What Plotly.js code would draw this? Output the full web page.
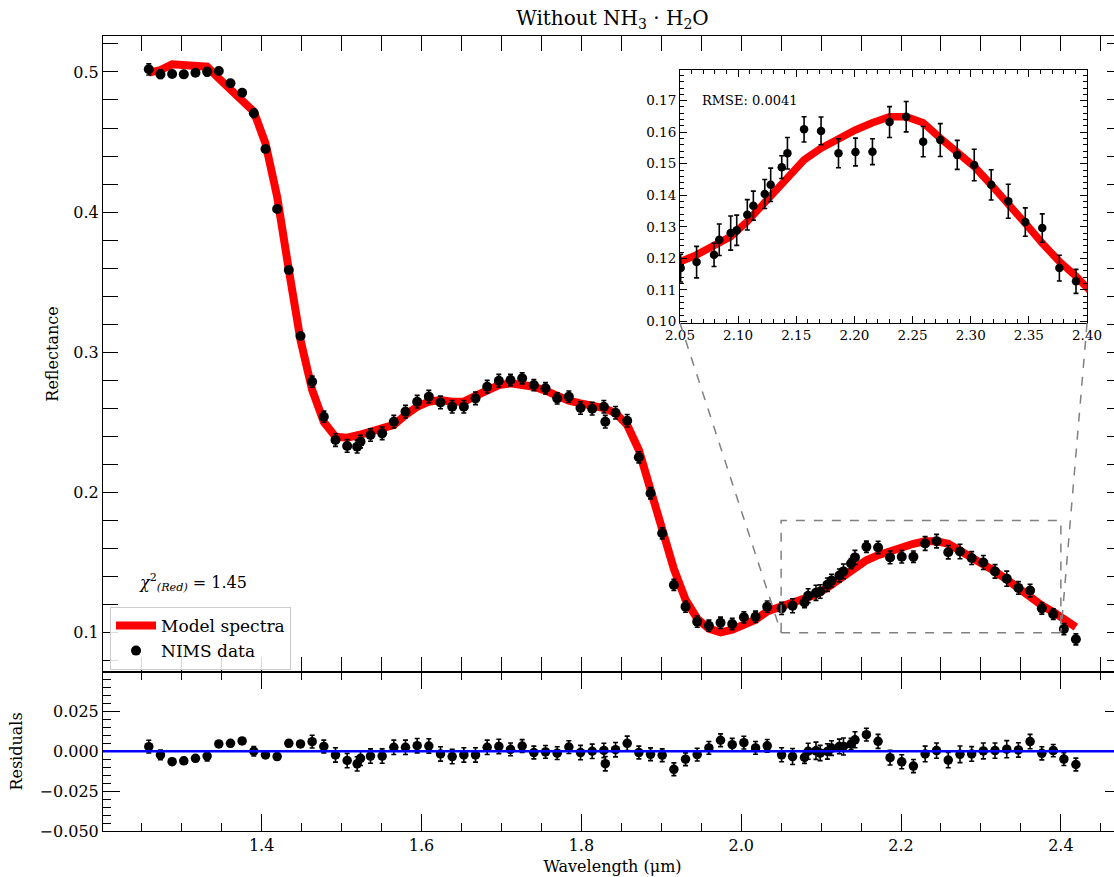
<!DOCTYPE html>
<html>
<head>
<meta charset="utf-8">
<script src="https://cdn.plot.ly/plotly-3.0.1.min.js"></script>
<style>html,body{margin:0;padding:0;overflow:hidden;background:#fff}</style>
</head>
<body>
<div id="chart" style="width:1130px;height:877px"></div>
<script>
// NIMS data (wavelength in µm, reflectance, 1-sigma error, residual)
const dataWave = [1.2588,1.2734,1.2880,1.3026,1.3172,1.3318,1.3464,1.3610,1.3756,1.3902,1.4048,1.4194,1.4340,1.4486,1.4632,1.4778,1.4924,1.5070,1.5195,1.5237,1.5362,1.5508,1.5654,1.5800,1.5946,1.6092,1.6238,1.6384,1.6530,1.6676,1.6822,1.6968,1.7114,1.7260,1.7406,1.7552,1.7698,1.7844,1.7990,1.8136,1.8282,1.8300,1.8428,1.8574,1.8720,1.8866,1.9012,1.9158,1.9304,1.9450,1.9596,1.9742,1.9888,2.0034,2.0180,2.0326,2.0506,2.0643,2.0793,2.0838,2.0936,2.0988,2.1079,2.1131,2.1229,2.1280,2.1375,2.1424,2.1567,2.1713,2.1863,2.2009,2.2155,2.2302,2.2445,2.2591,2.2738,2.2884,2.3030,2.3176,2.3323,2.3469,2.3615,2.3762,2.3905,2.4038,2.4188];
const dataRefl = [0.5019,0.4983,0.4986,0.4983,0.4995,0.5002,0.5007,0.4919,0.4852,0.4705,0.4450,0.4021,0.3586,0.3114,0.2788,0.2538,0.2371,0.2329,0.2324,0.2360,0.2407,0.2419,0.2502,0.2574,0.2645,0.2681,0.2640,0.2609,0.2609,0.2669,0.2752,0.2795,0.2800,0.2812,0.2764,0.2741,0.2669,0.2681,0.2600,0.2595,0.2609,0.2502,0.2566,0.2509,0.2248,0.1991,0.1705,0.1336,0.1181,0.1074,0.1045,0.1066,0.1057,0.1105,0.1109,0.1181,0.1169,0.1188,0.1211,0.1259,0.1280,0.1289,0.1338,0.1367,0.1404,0.1433,0.1489,0.1533,0.1609,0.1604,0.1533,0.1537,0.1538,0.1632,0.1649,0.1570,0.1575,0.1528,0.1496,0.1433,0.1381,0.1315,0.1296,0.1169,0.1127,0.1021,0.0948];
const dataErr = [0.004,0.003,0.002,0.002,0.002,0.003,0.002,0.002,0.002,0.003,0.002,0.002,0.002,0.002,0.004,0.004,0.0045,0.0045,0.0045,0.0045,0.0045,0.0045,0.0045,0.0045,0.0045,0.0045,0.0045,0.0045,0.0045,0.0045,0.0045,0.0045,0.004,0.004,0.004,0.004,0.004,0.004,0.0045,0.0045,0.0045,0.0045,0.0045,0.0045,0.004,0.004,0.004,0.004,0.004,0.004,0.004,0.004,0.004,0.004,0.004,0.004,0.0044,0.0050,0.0037,0.0050,0.0054,0.0048,0.0048,0.0046,0.0046,0.0053,0.0036,0.0050,0.0040,0.0044,0.0046,0.0044,0.0041,0.0049,0.0048,0.0048,0.0052,0.0046,0.0050,0.0048,0.0054,0.0045,0.0045,0.0041,0.0038,0.0040,0.0040];
const residuals = [0.0029,-0.0023,-0.0065,-0.0060,-0.0044,-0.0030,0.0046,0.0050,0.0065,0.0000,-0.0023,-0.0033,0.0050,0.0046,0.0060,0.0030,-0.0023,-0.0058,-0.0079,-0.0044,-0.0030,-0.0030,0.0025,0.0025,0.0035,0.0033,-0.0017,-0.0033,-0.0023,-0.0023,0.0025,0.0030,0.0012,0.0033,-0.0008,-0.0004,-0.0012,0.0026,-0.0008,0.0000,0.0005,-0.0078,0.0010,0.0050,-0.0008,-0.0019,-0.0025,-0.0113,-0.0050,-0.0021,0.0021,0.0069,0.0041,0.0054,0.0021,0.0034,-0.0022,-0.0033,-0.0039,0.0000,0.0003,-0.0011,-0.0001,0.0020,0.0030,0.0030,0.0045,0.0072,0.0104,0.0062,-0.0040,-0.0066,-0.0093,-0.0017,0.0004,-0.0055,-0.0019,-0.0017,0.0002,0.0004,0.0013,0.0008,0.0061,-0.0013,0.0004,-0.0049,-0.0083];

// Model spectrum
const modelWave = [1.2588,1.2734,1.2880,1.3026,1.3172,1.3318,1.3464,1.3610,1.3756,1.3902,1.4048,1.4194,1.4340,1.4486,1.4632,1.4778,1.4924,1.5070,1.5216,1.5362,1.5508,1.5654,1.5800,1.5946,1.6092,1.6238,1.6384,1.6530,1.6676,1.6822,1.6968,1.7114,1.7260,1.7406,1.7552,1.7698,1.7844,1.7990,1.8136,1.8282,1.8428,1.8574,1.8720,1.8866,1.9012,1.9158,1.9304,1.9450,1.9596,1.9742,1.9888,2.0034,2.0180,2.0326,2.0506,2.0643,2.0793,2.0936,2.1079,2.1229,2.1375,2.1567,2.1713,2.1863,2.2009,2.2155,2.2302,2.2445,2.2591,2.2738,2.2884,2.3030,2.3176,2.3323,2.3469,2.3615,2.3762,2.3905,2.4038,2.4188];
const modelRefl = [0.4995,0.5014,0.5055,0.5052,0.5052,0.5038,0.4955,0.4871,0.4800,0.4717,0.4491,0.4109,0.3586,0.3086,0.2729,0.2500,0.2395,0.2388,0.2407,0.2431,0.2455,0.2479,0.2550,0.2609,0.2645,0.2657,0.2645,0.2645,0.2686,0.2733,0.2764,0.2776,0.2771,0.2752,0.2724,0.2686,0.2652,0.2633,0.2621,0.2600,0.2564,0.2479,0.2300,0.2010,0.1730,0.1450,0.1231,0.1095,0.1024,0.0997,0.1016,0.1051,0.1088,0.1147,0.1190,0.1211,0.1238,0.1269,0.1317,0.1375,0.1438,0.1512,0.1549,0.1581,0.1607,0.1630,0.1649,0.1649,0.1630,0.1581,0.1538,0.1491,0.1433,0.1375,0.1311,0.1248,0.1190,0.1143,0.1095,0.1035];

const titleText = 'Without NH<sub>3</sub> · H<sub>2</sub>O';
const chiText = '<i>χ</i><sup>2</sup><sub><i>(Red)</i></sub> = 1.45';
const rmseText = 'RMSE: 0.0041';

// axis ranges / domains
const xRange = [1.2015, 2.4765];
const yRange = [0.07143, 0.52571];
const resRange = [-0.0500, 0.0497];
const mainDom = [0.2, 1];
const resDom = [0, 0.2];
const insetXR = [2.05, 2.40];
const insetYR = [0.0995, 0.1797];
const insetDomX = [0.5662, 0.9657];
const insetDomY = [0.639, 0.9572];

const F = 'DejaVu Serif, Liberation Serif, serif';

const traces = [
  {x: modelWave, y: modelRefl, type: 'scatter', mode: 'lines', name: 'Model spectra',
   line: {color: '#ff0000', width: 8}, xaxis: 'x', yaxis: 'y'},
  {x: dataWave, y: dataRefl, type: 'scatter', mode: 'markers', name: 'NIMS data',
   marker: {color: 'black', size: 10},
   error_y: {type: 'data', array: dataErr, color: 'black', thickness: 1.6, width: 2.5},
   xaxis: 'x', yaxis: 'y'},
  // residuals
  {x: dataWave, y: residuals, type: 'scatter', mode: 'markers', showlegend: false,
   marker: {color: 'black', size: 9.5},
   error_y: {type: 'data', array: dataErr, color: 'black', thickness: 1.6, width: 2.5},
   xaxis: 'x2', yaxis: 'y2'},
  // inset
  {x: modelWave, y: modelRefl, type: 'scatter', mode: 'lines', showlegend: false,
   line: {color: '#ff0000', width: 7.5}, xaxis: 'x3', yaxis: 'y3'},
  {x: dataWave, y: dataRefl, type: 'scatter', mode: 'markers', showlegend: false,
   marker: {color: 'black', size: 8.5},
   error_y: {type: 'data', array: dataErr, color: 'black', thickness: 1.6, width: 2.5},
   xaxis: 'x3', yaxis: 'y3'}
];

function px(x) { return (x - xRange[0]) / (xRange[1] - xRange[0]); }
function py(y) { return mainDom[0] + (mainDom[1] - mainDom[0]) * (y - yRange[0]) / (yRange[1] - yRange[0]); }

const gray = '#808080';
const shapes = [
  {type: 'rect', xref: 'x', yref: 'y', x0: insetXR[0], x1: insetXR[1], y0: insetYR[0], y1: insetYR[1],
   line: {color: gray, width: 1.5, dash: 'dash'}},
  {type: 'line', xref: 'paper', yref: 'paper', x0: insetDomX[0], y0: insetDomY[0], x1: px(insetXR[0]), y1: py(insetYR[0]),
   line: {color: gray, width: 1.5, dash: 'dash'}},
  {type: 'line', xref: 'paper', yref: 'paper', x0: insetDomX[1], y0: insetDomY[0], x1: px(insetXR[1]), y1: py(insetYR[0]),
   line: {color: gray, width: 1.5, dash: 'dash'}},
  {type: 'line', xref: 'x2 domain', yref: 'y2', x0: 0, x1: 1, y0: 0, y1: 0, layer: 'above',
   line: {color: '#0000ff', width: 2.5}}
];

const common = {showline: true, linecolor: 'black', linewidth: 1, mirror: 'allticks', ticks: 'inside',
  tickcolor: 'black', showgrid: false, zeroline: false};

const layout = {
  width: 1130, height: 877,
  margin: {l: 103, r: 8, t: 36, b: 46},
  paper_bgcolor: 'white', plot_bgcolor: 'white',
  font: {family: F, color: 'black', size: 16},
  title: {text: titleText, font: {family: F, size: 20, color: 'black'}, x: 0.5, xref: 'paper',
          y: 1 - 18 / 877, yref: 'container', yanchor: 'middle'},
  showlegend: true,
  legend: {x: 0.0069, y: 0.2818, xref: 'paper', yref: 'paper', xanchor: 'left', yanchor: 'top',
           bgcolor: 'rgba(255,255,255,0.85)', bordercolor: '#cccccc', borderwidth: 1,
           font: {family: F, size: 17}, itemwidth: 40, tracegroupgap: 0},
  xaxis: Object.assign({}, common, {domain: [0, 1], anchor: 'y', range: xRange, tick0: 1.4, dtick: 0.2,
    ticklen: 15, showticklabels: false, minor: {dtick: 0.05, tick0: 1.4, ticklen: 15, ticks: 'inside', tickcolor: 'black'}}),
  yaxis: Object.assign({}, common, {domain: mainDom, anchor: 'x', range: yRange, tick0: 0, dtick: 0.1,
    tickformat: '.1f', ticklen: 15, tickfont: {size: 16},
    minor: {dtick: 0.02, tick0: 0, ticklen: 15, ticks: 'inside', tickcolor: 'black'},
    title: {text: 'Reflectance', font: {size: 16}, standoff: 10}}),
  xaxis2: Object.assign({}, common, {domain: [0, 1], anchor: 'y2', range: xRange, tick0: 1.4, dtick: 0.2,
    tickformat: '.1f', ticklen: 17, tickfont: {size: 16},
    minor: {dtick: 0.05, tick0: 1.4, ticklen: 8, ticks: 'inside', tickcolor: 'black'},
    title: {text: 'Wavelength (μm)', font: {size: 16}, standoff: 6}}),
  yaxis2: Object.assign({}, common, {domain: resDom, anchor: 'x2', range: resRange, tick0: 0, dtick: 0.025,
    tickformat: '.3f', ticklen: 17, tickfont: {size: 16},
    minor: {dtick: 0.005, tick0: 0, ticklen: 8, ticks: 'inside', tickcolor: 'black'},
    title: {text: 'Residuals', font: {size: 16}, standoff: 12}}),
  xaxis3: Object.assign({}, common, {domain: insetDomX, anchor: 'y3', range: insetXR, tick0: 2.05, dtick: 0.05,
    tickformat: '.2f', ticklen: 7, tickfont: {size: 13.5},
    minor: {dtick: 0.01, tick0: 2.05, ticklen: 4, ticks: 'inside', tickcolor: 'black'}}),
  yaxis3: Object.assign({}, common, {domain: insetDomY, anchor: 'x3', range: insetYR, tick0: 0.1, dtick: 0.01,
    tickformat: '.2f', ticklen: 7, tickfont: {size: 13.5},
    minor: {dtick: 0.002, tick0: 0.1, ticklen: 4, ticks: 'inside', tickcolor: 'black'}}),
  shapes: shapes,
  annotations: [
    {text: chiText, xref: 'paper', yref: 'paper', x: 0.0334, y: 0.312, xanchor: 'left', yanchor: 'middle',
     showarrow: false, font: {family: F, size: 16}},
    {text: rmseText, xref: 'x3 domain', yref: 'y3 domain', x: 0.049, y: 0.878, xanchor: 'left', yanchor: 'middle',
     showarrow: false, font: {family: F, size: 13}}
  ]
};

Plotly.newPlot('chart', traces, layout, {displayModeBar: false, staticPlot: true});
</script>
</body>
</html>
